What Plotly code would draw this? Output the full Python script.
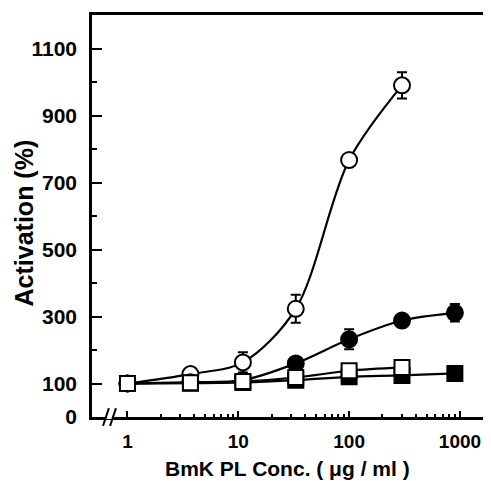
import plotly.graph_objects as go

# ---- data ----
conc = [1, 3.7, 11, 33, 100, 300, 900]

open_circle_y = [100, 128, 163, 323, 767, 990]
open_circle_err = [8, 10, 30, 42, 18, 39]

filled_circle_y = [100, 104, 110, 160, 232, 288, 311]
filled_circle_err = [6, 6, 8, 16, 30, 16, 26]

open_square_y = [100, 102, 106, 118, 138, 148]
open_square_err = [5, 6, 6, 8, 10, 10]

filled_square_y = [100, 101, 103, 110, 120, 124, 130]
filled_square_err = [5, 5, 6, 6, 8, 8, 22]

y_major = [0, 100, 300, 500, 700, 900, 1100]
y_minor = [200, 400, 600, 800, 1000]
x_major = [1, 10, 100, 1000]
x_major_text = ["1", "10", "100", "1000"]
x_minor = [m * d for d in (1, 10, 100) for m in range(2, 10)]

FONT = "Liberation Sans"
BLACK = "#000000"

fig = go.Figure()


def add_series(xs, ys, errs, symbol, filled):
    fig.add_trace(go.Scatter(
        x=xs, y=ys, mode="lines+markers",
        line=dict(color=BLACK, width=2.2, shape="spline", smoothing=0.9),
        marker=dict(symbol=symbol, size=16 if "circle" in symbol else 15,
                    color=BLACK if filled else "white",
                    line=dict(color=BLACK, width=2)),
        error_y=dict(type="data", array=errs, visible=True,
                     color=BLACK, thickness=2, width=5),
        showlegend=False, cliponaxis=False,
    ))


add_series(conc[:6], open_circle_y, open_circle_err, "circle", False)
add_series(conc, filled_circle_y, filled_circle_err, "circle", True)
add_series(conc, filled_square_y, filled_square_err, "square", True)
add_series(conc[:6], open_square_y, open_square_err, "square", False)

fig.update_layout(
    width=483, height=473,
    margin=dict(l=84, r=3, t=7, b=64),
    paper_bgcolor="white", plot_bgcolor="white",
    font=dict(family=FONT, size=20, color=BLACK, weight="bold"),
    xaxis=dict(
        type="log", range=[-0.32, 3.226],
        tickmode="array", tickvals=x_major, ticktext=x_major_text,
        ticks="inside", ticklen=6, tickwidth=2, tickcolor=BLACK,
        minor=dict(tickmode="array", tickvals=x_minor, ticks="inside",
                   ticklen=3, tickwidth=1.5, tickcolor=BLACK),
        showline=True, linewidth=2.5, linecolor=BLACK, mirror=True,
        showgrid=False, zeroline=False,
        tickfont=dict(family=FONT, size=19, weight="bold"),
        ticklabelstandoff=5,
    ),
    yaxis=dict(
        range=[0, 1200],
        tickmode="array", tickvals=y_major,
        ticks="inside", ticklen=10, tickwidth=2, tickcolor=BLACK,
        minor=dict(tickmode="array", tickvals=y_minor, ticks="inside",
                   ticklen=5, tickwidth=2, tickcolor=BLACK),
        showline=True, linewidth=2.5, linecolor=BLACK, mirror=True,
        showgrid=False, zeroline=False,
        tickfont=dict(family=FONT, size=21, weight="bold"),
        ticklabelstandoff=8,
    ),
    annotations=[
        dict(text="Activation (%)", xref="paper", yref="paper",
             x=-0.174, y=0.483, xanchor="center", yanchor="middle",
             textangle=-90, showarrow=False,
             font=dict(family=FONT, size=25, weight="bold")),
        dict(text="BmK PL Conc. ( μg / ml )", xref="paper", yref="paper",
             x=0.497, y=-0.129, xanchor="center", yanchor="middle",
             showarrow=False,
             font=dict(family=FONT, size=21, weight="bold")),
    ],
    shapes=[
        dict(type="line", xref="paper", yref="paper",
             x0=0.036, x1=0.052, y0=0, y1=0,
             line=dict(color="white", width=4)),
        dict(type="line", xref="paper", yref="paper",
             x0=0.028, x1=0.043, y0=-0.022, y1=0.022,
             line=dict(color=BLACK, width=2)),
        dict(type="line", xref="paper", yref="paper",
             x0=0.046, x1=0.061, y0=-0.022, y1=0.022,
             line=dict(color=BLACK, width=2)),
    ],
)

fig.write_html("out.html")
